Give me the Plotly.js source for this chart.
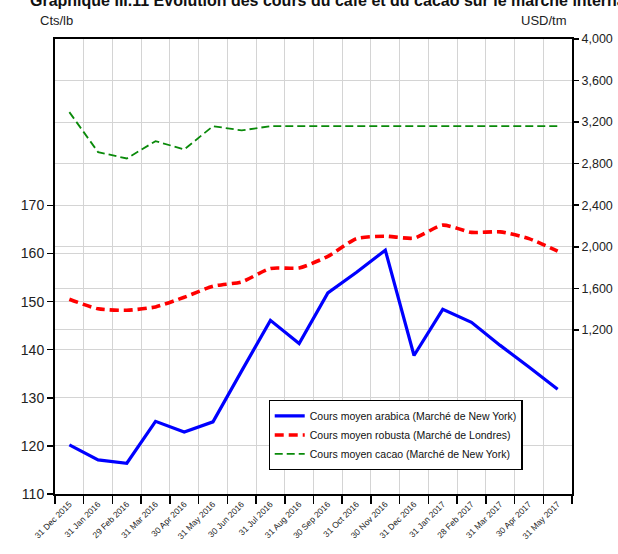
<!DOCTYPE html>
<html>
<head>
<meta charset="utf-8">
<script src="https://cdn.plot.ly/plotly-3.0.1.min.js"></script>
<style>
html,body{margin:0;padding:0;background:#fff;}
#chart{width:618px;height:554px;}
</style>
</head>
<body>
<div id="chart"></div>
<script>
const months = ["31 Dec 2015","31 Jan 2016","29 Feb 2016","31 Mar 2016","30 Apr 2016","31 May 2016","30 Jun 2016","31 Jul 2016","31 Aug 2016","30 Sep 2016","31 Oct 2016","30 Nov 2016","31 Dec 2016","31 Jan 2017","28 Feb 2017","31 Mar 2017","30 Apr 2017","31 May 2017"];
const arabica = [120.2,117.1,116.4,125.1,122.9,125.0,135.6,146.1,141.3,151.8,156.1,160.7,138.8,148.4,145.7,140.9,136.4,131.8];
const robusta = [150.5,148.5,148.2,148.9,150.9,153.2,154.1,156.9,157.0,159.4,163.1,163.6,163.2,165.9,164.4,164.5,163.1,160.5];
const cacao = [3296,2911,2850,3017,2937,3161,3120,3161,3161,3161,3161,3161,3161,3161,3161,3161,3161,3161];
const leftTicks = [110,120,130,140,150,160,170];
const rightTicks = [1200,1600,2000,2400,2800,3200,3600,4000];

const FONT = "'Liberation Sans Narrow', 'Arial Narrow', 'Liberation Sans', Arial, sans-serif";

const traces = [
  {x: months, y: arabica, name: "Cours moyen arabica (Marché de New York)", type: "scatter", mode: "lines",
   line: {color: "#0000ff", width: 3.2}, yaxis: "y"},
  {x: months, y: robusta, name: "Cours moyen robusta (Marché de Londres)", type: "scatter", mode: "lines",
   line: {color: "#ff0000", width: 3.6, dash: "9px,5px", shape: "spline", smoothing: 0.6}, yaxis: "y"},
  {x: months, y: cacao, name: "Cours moyen cacao (Marché de New York)", type: "scatter", mode: "lines",
   line: {color: "#0a8a0a", width: 1.8, dash: "8px,4px"}, yaxis: "y2"}
];

const layout = {
  width: 618, height: 554,
  margin: {l: 55, r: 46, t: 39, b: 60},
  paper_bgcolor: "#fff", plot_bgcolor: "#fff",
  font: {family: FONT, color: "#222", size: 13},
  showlegend: true,
  title: {text: "<b>Graphique III.11 Evolution des cours du café et du cacao sur le marché international</b>",
    font: {family: FONT, size: 16, color: "#111"}, x: 30/618, xanchor: "left", xref: "container",
    y: 1.0, yref: "container", yanchor: "middle"},
  xaxis: {type: "category", tickson: "boundaries", showgrid: true, gridcolor: "#d4d4d4", gridwidth: 1,
    ticks: "outside", ticklen: 8, tickcolor: "#000", tickwidth: 1.5,
    tickangle: -45, tickfont: {family: FONT, size: 8.5, color: "#222"},
    showline: true, linecolor: "#000", linewidth: 2, mirror: true, zeroline: false,
    range: [-0.5, 17.5]},
  yaxis: {range: [110, 204.6], tickvals: leftTicks, showgrid: true, gridcolor: "#d4d4d4", gridwidth: 1,
    ticks: "outside", ticklen: 6, tickcolor: "#000", tickwidth: 1.5,
    tickfont: {family: FONT, size: 14, color: "#222"},
    showline: true, linecolor: "#000", linewidth: 2, zeroline: false},
  yaxis2: {range: [-380, 4000], tickvals: rightTicks, tickformat: ",", overlaying: "y", side: "right",
    showgrid: true, gridcolor: "#d4d4d4", gridwidth: 1,
    ticks: "outside", ticklen: 5, tickcolor: "#000", tickwidth: 1.5,
    tickfont: {family: FONT, size: 12.5, color: "#222"},
    showline: true, linecolor: "#000", linewidth: 2, zeroline: false},
  legend: {x: 0.413, y: 0.206, xanchor: "left", yanchor: "top", bgcolor: "#fff",
    bordercolor: "#000", borderwidth: 1.2, font: {family: FONT, size: 10.5, color: "#111"},
    tracegroupgap: 0, itemwidth: 30},
  annotations: [
    {text: "Cts/lb", xref: "paper", yref: "paper", x: -0.032, y: 1.02, xanchor: "left", yanchor: "bottom",
     showarrow: false, font: {family: FONT, size: 13, color: "#222"}},
    {text: "USD/tm", xref: "paper", yref: "paper", x: 0.995, y: 1.02, xanchor: "right", yanchor: "bottom",
     showarrow: false, font: {family: FONT, size: 13, color: "#222"}}
  ]
};

Plotly.newPlot("chart", traces, layout, {displayModeBar: false, staticPlot: true});
</script>
</body>
</html>
